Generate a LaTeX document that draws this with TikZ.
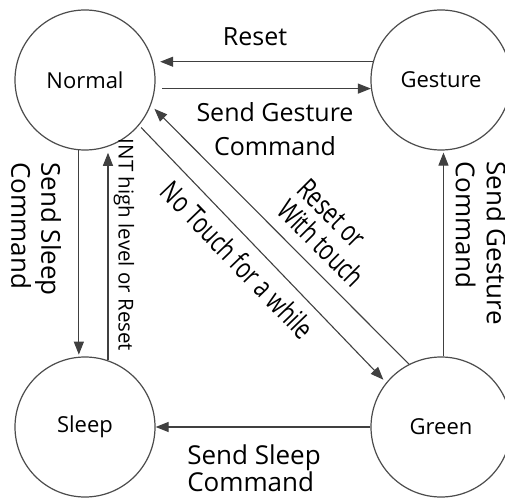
\documentclass[tikz,border=0pt]{standalone}
\usepackage{fontspec}
\setmainfont{Open Sans}
\newfontfamily\narrowfont[FakeStretch=0.74]{Open Sans}
\usetikzlibrary{arrows.meta, positioning}

\begin{document}
\begin{tikzpicture}
[x=1pt, y=-1pt,
state/.style={circle, draw=black!70, line width=1.2pt, minimum size=140pt, inner sep=0pt, font=\fontsize{22}{26}\selectfont},
trans/.style={draw=black!75, line width=1.1pt, -{Triangle[length=13pt,width=10pt]}},
lbl/.style={inner sep=0pt, font=\fontsize{25}{34}\selectfont, align=center},
slant/.style={inner sep=0pt, font=\narrowfont\fontsize{29}{29}\selectfont, align=left},
]
\useasboundingbox (0,0) rectangle (505,497);

% states
\node[state] (normal) at (85,80) {Normal};
\node[state] (gesture) at (441,80) {Gesture};
\node[state] (sleep) at (85,427) {Sleep};
\node[state] (green) at (441,427) {Green};

% transitions
\draw[trans, shorten >=7pt] (gesture.165) -- (normal.15);
\draw[trans, shorten <=7pt] (normal.-7) -- (gesture.187);
\draw[trans, shorten >=2pt] (normal.265) -- (sleep.95);
\draw[trans, shorten >=6pt] (sleep.71) -- (normal.-71);
\draw[trans, shorten <=3pt, shorten >=4pt] (normal.-40) -- (green.141);
\draw[trans, shorten >=5pt] (green.117) -- (normal.-21);
\draw[trans, shorten >=2pt] (green.88) -- (gesture.-88);
\draw[trans] (green.180) -- (sleep.0);

% labels
\node[lbl] (resetlbl) at (255,37) {Reset};
\node[lbl] (gesturelbl) at (275,129) {Send Gesture\\Command};
\node[lbl, align=left, rotate=-90, font=\fontsize{26}{30}\selectfont] (sleeplbl) at (36,229) {Send Sleep\\Command};
\node[lbl, rotate=-90, font=\fontsize{20.5}{24}\selectfont] (intlbl) at (124,245) {INT high level or Reset};
\node[lbl, align=left, rotate=-90, font=\fontsize{26}{31}\selectfont] (greenuplbl) at (481,243) {Send Gesture\\Command};
\node[lbl, align=left, font=\fontsize{26}{23}\selectfont] (greenleftlbl) at (254,468) {Send Sleep\\Command};
\node[slant, rotate=-46] (notouchlbl) at (238,260) {No Touch for a while};
\node[slant, rotate=-45] (touchlbl) at (331,233) {Reset or\\With touch};
\end{tikzpicture}
\end{document}
